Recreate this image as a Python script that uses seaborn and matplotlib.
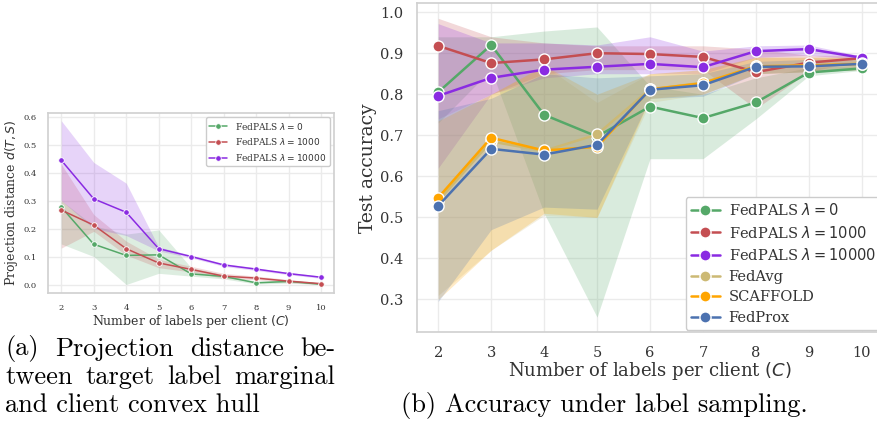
import numpy as np
import pandas as pd
import seaborn as sns
import matplotlib
matplotlib.use('Agg')
import matplotlib.pyplot as plt

# number of labels per client
labels_c = [2, 3, 4, 5, 6, 7, 8, 9, 10]

# (a) projection distance d(T,S): mean, lower, upper
proj_l0 = [0.277, 0.144, 0.104, 0.106, 0.038, 0.029, 0.006, 0.011, 0.001]
proj_l0_lo = [0.145, 0.100, 0.000, 0.040, 0.030, 0.020, 0.002, 0.005, 0.000]
proj_l0_hi = [0.300, 0.210, 0.180, 0.195, 0.060, 0.035, 0.012, 0.015, 0.003]
proj_l1000 = [0.266, 0.212, 0.128, 0.077, 0.054, 0.030, 0.023, 0.012, 0.003]
proj_l1000_lo = [0.130, 0.190, 0.105, 0.060, 0.045, 0.022, 0.017, 0.007, 0.000]
proj_l1000_hi = [0.430, 0.250, 0.155, 0.090, 0.065, 0.040, 0.030, 0.018, 0.006]
proj_l10000 = [0.444, 0.306, 0.258, 0.128, 0.100, 0.070, 0.055, 0.039, 0.026]
proj_l10000_lo = [0.300, 0.200, 0.175, 0.120, 0.095, 0.065, 0.050, 0.035, 0.022]
proj_l10000_hi = [0.585, 0.436, 0.362, 0.134, 0.105, 0.075, 0.060, 0.043, 0.030]

# (b) test accuracy: mean, lower, upper
acc_l0 = [0.805, 0.920, 0.750, 0.697, 0.770, 0.742, 0.780, 0.853, 0.863]
acc_l0_lo = [0.730, 0.860, 0.510, 0.257, 0.643, 0.643, 0.740, 0.845, 0.858]
acc_l0_hi = [0.940, 0.940, 0.954, 0.964, 0.820, 0.800, 0.840, 0.865, 0.870]
acc_l1000 = [0.918, 0.876, 0.885, 0.900, 0.898, 0.891, 0.854, 0.877, 0.888]
acc_l1000_lo = [0.740, 0.800, 0.850, 0.860, 0.860, 0.860, 0.765, 0.855, 0.882]
acc_l1000_hi = [0.985, 0.940, 0.925, 0.918, 0.918, 0.918, 0.910, 0.895, 0.895]
acc_l10000 = [0.796, 0.840, 0.860, 0.867, 0.874, 0.866, 0.905, 0.910, 0.889]
acc_l10000_lo = [0.620, 0.800, 0.840, 0.850, 0.850, 0.850, 0.890, 0.895, 0.885]
acc_l10000_hi = [0.972, 0.925, 0.925, 0.920, 0.940, 0.905, 0.918, 0.920, 0.893]
acc_fedavg = [0.540, 0.685, 0.662, 0.702, 0.812, 0.828, 0.868, 0.870, 0.875]
acc_fedavg_lo = [0.310, 0.420, 0.505, 0.500, 0.780, 0.800, 0.850, 0.855, 0.860]
acc_fedavg_hi = [0.740, 0.800, 0.870, 0.780, 0.850, 0.860, 0.890, 0.890, 0.890]
acc_scaffold = [0.548, 0.694, 0.663, 0.672, 0.812, 0.827, 0.868, 0.870, 0.874]
acc_scaffold_lo = [0.300, 0.420, 0.510, 0.500, 0.790, 0.800, 0.850, 0.855, 0.860]
acc_scaffold_hi = [0.735, 0.800, 0.870, 0.800, 0.850, 0.860, 0.890, 0.890, 0.890]
acc_fedprox = [0.528, 0.667, 0.653, 0.677, 0.811, 0.822, 0.867, 0.868, 0.874]
acc_fedprox_lo = [0.295, 0.470, 0.525, 0.520, 0.790, 0.795, 0.850, 0.855, 0.860]
acc_fedprox_hi = [0.760, 0.790, 0.850, 0.840, 0.845, 0.850, 0.880, 0.885, 0.885]

names = [r'FedPALS $\lambda = 0$', r'FedPALS $\lambda = 1000$', r'FedPALS $\lambda = 10000$',
         'FedAvg', 'SCAFFOLD', 'FedProx']
colors = ['#55A868', '#C44E52', '#8A2BE2', '#CCB974', '#FFA500', '#4C72B0']
palette = dict(zip(names, colors))

proj = [(proj_l0, proj_l0_lo, proj_l0_hi),
        (proj_l1000, proj_l1000_lo, proj_l1000_hi),
        (proj_l10000, proj_l10000_lo, proj_l10000_hi)]
acc = [(acc_l0, acc_l0_lo, acc_l0_hi),
       (acc_l1000, acc_l1000_lo, acc_l1000_hi),
       (acc_l10000, acc_l10000_lo, acc_l10000_hi),
       (acc_fedavg, acc_fedavg_lo, acc_fedavg_hi),
       (acc_scaffold, acc_scaffold_lo, acc_scaffold_hi),
       (acc_fedprox, acc_fedprox_lo, acc_fedprox_hi)]


def long_frame(series):
  rows = []
  for name, (m, lo, hi) in zip(names, series):
    for c, v, a, b in zip(labels_c, m, lo, hi):
      rows.append({'C': c, 'value': v, 'lo': a, 'hi': b, 'method': name})
  return pd.DataFrame(rows)


projDF = long_frame(proj)
accDF = long_frame(acc)

sns.set_theme(style='whitegrid')
plt.rcParams['font.family'] = ['DejaVu Serif']
plt.rcParams['axes.edgecolor'] = '0.82'
plt.rcParams['grid.color'] = '0.92'
plt.rcParams['text.color'] = '0.2'
plt.rcParams['xtick.color'] = '0.2'
plt.rcParams['ytick.color'] = '0.2'
plt.rcParams['axes.labelcolor'] = '0.2'

fig = plt.figure(figsize=(8.77, 4.23), dpi=100)
axA = fig.add_axes([0.055, 0.308, 0.326, 0.426])
# right panel runs a little past the right edge of the figure, as in the original
axB = fig.add_axes([0.4755, 0.215, 0.5313, 0.777])

# (a)
for name, g in projDF.groupby('method', sort=False):
  axA.fill_between(g['C'], g['lo'], g['hi'], color=palette[name], alpha=0.2, linewidth=0)
sns.lineplot(data=projDF, x='C', y='value', hue='method', hue_order=names[:3],
             palette=palette, marker='o', markersize=4, markeredgecolor='white',
             markeredgewidth=0.6, linewidth=1.1, ax=axA)
axA.set_xticks(labels_c)
axA.set_yticks([0.0, 0.1, 0.2, 0.3, 0.4, 0.5, 0.6])
axA.tick_params(labelsize=6, pad=2)
axA.set_xlabel(r'Number of labels per client $(C)$', fontsize=9, labelpad=1)
axA.set_ylabel(r'Projection distance $d(T, S)$', fontsize=9, labelpad=3)
axA.legend(loc='upper right', fontsize=6.5, title=None, framealpha=1)

# (b)
for name, g in accDF.groupby('method', sort=False):
  axB.fill_between(g['C'], g['lo'], g['hi'], color=palette[name], alpha=0.22, linewidth=0)
sns.lineplot(data=accDF, x='C', y='value', hue='method', hue_order=names,
             palette=palette, marker='o', markersize=8, markeredgecolor='white',
             markeredgewidth=1, linewidth=1.8, ax=axB)
axB.set_xticks(labels_c)
axB.set_yticks([0.3, 0.4, 0.5, 0.6, 0.7, 0.8, 0.9, 1.0])
axB.tick_params(labelsize=10.5, pad=4)
axB.set_xlabel(r'Number of labels per client $(C)$', fontsize=13, labelpad=0)
axB.set_ylabel('Test accuracy', fontsize=13.5, labelpad=2)
axB.legend(loc='lower right', fontsize=10.5, labelspacing=0.45, borderaxespad=0.15,
           borderpad=0.35, handletextpad=0.6, title=None, framealpha=1)

# captions
capfont = dict(family='cmr10', fontsize=19, color='black', va='center')


def justify(words, x0, x1, y):
  texts = [fig.text(0, y, w, **capfont) for w in words]
  fig.canvas.draw()
  r = fig.canvas.get_renderer()
  widths = [t.get_window_extent(r).width / fig.bbox.width for t in texts]
  gap = (x1 - x0 - sum(widths)) / (len(words) - 1)
  x = x0
  for t, w in zip(texts, widths):
    t.set_x(x)
    x += w + gap


justify(['(a)', 'Projection', 'distance', 'be-'], 0.006, 0.382, 1 - 349 / 423)
justify(['tween', 'target', 'label', 'marginal'], 0.006, 0.382, 1 - 377 / 423)
fig.text(0.006, 1 - 405 / 423, 'and client convex hull', **capfont)
fig.text(0.689, 1 - 405 / 423, '(b) Accuracy under label sampling.', ha='center', **capfont)

plt.savefig('out.png', dpi=100)
